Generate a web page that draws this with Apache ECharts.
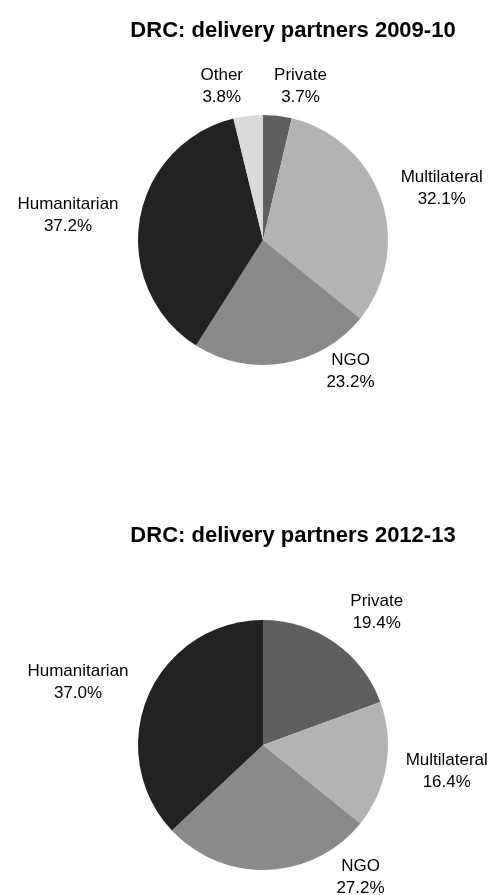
<!DOCTYPE html>
<html>
<head>
<meta charset="utf-8">
<style>
  html, body { margin: 0; padding: 0; background: #ffffff; }
  #chart { width: 492px; height: 895px; }
</style>
<script src="https://cdn.jsdelivr.net/npm/echarts@6/dist/echarts.min.js"></script>
</head>
<body>
<div id="chart"></div>
<script>
// ---- Data ----
const titles = ['DRC: delivery partners 2009-10', 'DRC: delivery partners 2012-13'];
const categories2009 = ['Private', 'Multilateral', 'NGO', 'Humanitarian', 'Other'];
const values2009 = [3.7, 32.1, 23.2, 37.2, 3.8];
const categories2012 = ['Private', 'Multilateral', 'NGO', 'Humanitarian'];
const values2012 = [19.4, 16.4, 27.2, 37.0];

// ---- Style / layout ----
const colorMap = {
  'Private': '#5f5f5f',
  'Multilateral': '#b3b3b3',
  'NGO': '#8a8a8a',
  'Humanitarian': '#222222',
  'Other': '#dadada'
};
const R = 125;
const centers = [[263, 240], [263, 745]];
// label anchor offsets from pie centre, in units of radius
const labelOffsets = [
  { 'Private': [0.30, -1.23], 'Multilateral': [1.43, -0.41], 'NGO': [0.70, 1.05], 'Humanitarian': [-1.56, -0.20], 'Other': [-0.33, -1.23] },
  { 'Private': [0.91, -1.06], 'Multilateral': [1.47, 0.21], 'NGO': [0.78, 1.06], 'Humanitarian': [-1.48, -0.50] }
];

function buildData(cats, vals) {
  return cats.map((c, i) => ({ name: c, value: vals[i], itemStyle: { color: colorMap[c] } }));
}

function makeSeries(idx, cats, vals) {
  return {
    type: 'pie',
    center: centers[idx],
    radius: R,
    startAngle: 90,
    clockwise: true,
    avoidLabelOverlap: false,
    silent: true,
    animation: false,
    itemStyle: { borderWidth: 0 },
    label: {
      show: true,
      position: 'outside',
      formatter: p => p.name + '\n' + p.value.toFixed(1) + '%',
      fontFamily: '"Liberation Sans", Arial, sans-serif',
      fontSize: 17,
      lineHeight: 22,
      color: '#000000',
      align: 'center'
    },
    labelLine: { show: false },
    labelLayout: function (params) {
      const name = cats[params.dataIndex];
      const off = labelOffsets[idx][name];
      return {
        x: centers[idx][0] + off[0] * R,
        y: centers[idx][1] + off[1] * R,
        align: 'center',
        verticalAlign: 'middle'
      };
    },
    data: buildData(cats, vals)
  };
}

const chart = echarts.init(document.getElementById('chart'), null, { renderer: 'canvas' });
chart.setOption({
  backgroundColor: '#ffffff',
  animation: false,
  title: [
    {
      text: titles[0], left: 288, top: 14, textAlign: 'center',
      textStyle: { fontFamily: '"Liberation Sans", Arial, sans-serif', fontWeight: 'bold', fontSize: 22, lineHeight: 24, color: '#000' }
    },
    {
      text: titles[1], left: 288, top: 519, textAlign: 'center',
      textStyle: { fontFamily: '"Liberation Sans", Arial, sans-serif', fontWeight: 'bold', fontSize: 22, lineHeight: 24, color: '#000' }
    }
  ],
  series: [
    makeSeries(0, categories2009, values2009),
    makeSeries(1, categories2012, values2012)
  ]
});
</script>
</body>
</html>
